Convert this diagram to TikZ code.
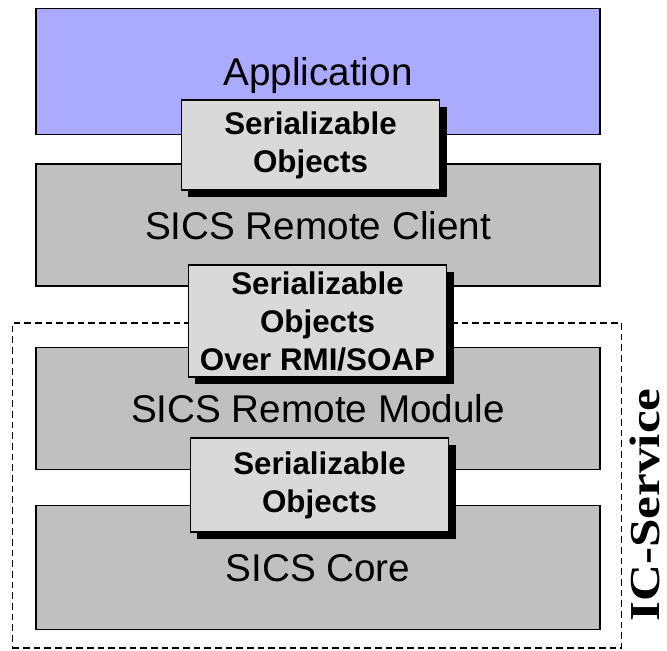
\documentclass[tikz,border=0pt]{standalone}
\usepackage{fontspec}
\newfontfamily\arialfont{Liberation Sans}
\newfontfamily\timesfont{Liberation Serif}
\usetikzlibrary{positioning, shadows}
\definecolor{appblue}{RGB}{170,170,255}
\definecolor{layergray}{RGB}{192,192,192}
\definecolor{objgray}{RGB}{217,217,217}
\tikzset{
    layer/.style={
        draw, line width=0.9pt,
        fill=layergray,
        minimum width=423pt,
        minimum height=91.5pt,
        text height=21pt, text depth=0pt,
        font=\arialfont\fontsize{29}{35}\selectfont
    },
    objbox/.style={
        draw, line width=0.9pt,
        fill=objgray,
        minimum width=194pt,
        align=center, inner sep=0pt,
        drop shadow={shadow xshift=5pt, shadow yshift=-5pt, fill=black, opacity=1},
        font=\arialfont\bfseries\fontsize{23.5}{28.5}\selectfont
    },
    every node/.style = {node distance=21pt}
}
\begin{document}
\begin{tikzpicture}[x=0.75pt, y=-0.75pt]
\useasboundingbox (0,0) rectangle (667,650);

% IC-Service frame
\node[draw, dash pattern=on 5pt off 3pt, line width=1.1pt,
    minimum width=457pt, minimum height=244pt, inner sep=0pt] (frame) at (317,485.5) {};
\node[rotate=90, inner sep=0pt, font=\timesfont\bfseries\fontsize{32}{38}\selectfont] (iclabel) at (645,505) {\scalebox{1.2}[1]{IC-Service}};

% Layers
\node[layer, fill=appblue, minimum height=95pt] (app) at (318,71.5) {Application};
\node[layer, below=21pt of app] (client) {SICS Remote Client};
\node[layer, below=45pt of client] (module) {SICS Remote Module};
\node[layer, below=26pt of module, minimum height=93pt] (core) {SICS Core};

% Serializable objects
\node[objbox, minimum height=67.5pt] (obj1) at (310.5,145) {Serializable\\Objects};
\node[objbox, minimum height=84pt] (rmi) at (317.5,321) {Serializable\\Objects\\Over RMI/SOAP};
\node[objbox, minimum height=70.5pt] (obj3) at (319.5,485) {Serializable\\Objects};

\end{tikzpicture}
\end{document}
